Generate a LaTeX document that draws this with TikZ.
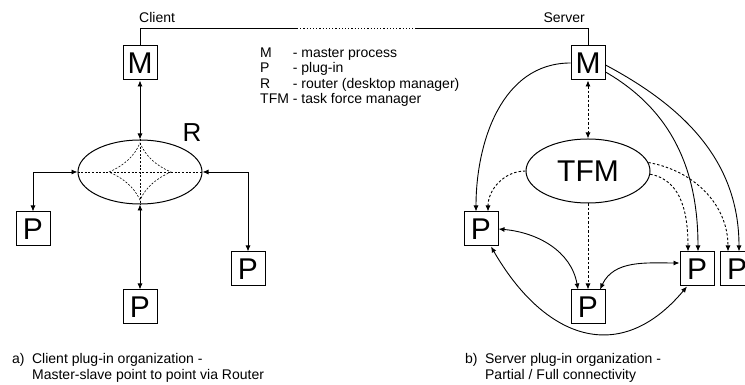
\documentclass[tikz,border=0pt]{standalone}
\usepackage{fontspec}
\setmainfont{Liberation Sans}
\usetikzlibrary{arrows.meta,shapes.geometric,calc}

\tikzset{
  proc/.style={draw,line width=1pt,minimum size=34pt,inner sep=0pt,font=\fontsize{30}{30}\selectfont},
  hub/.style={draw,ellipse,line width=1pt,minimum width=124pt,minimum height=64pt,inner sep=0pt,font=\fontsize{30}{30}\selectfont},
  link/.style={line width=0.9pt},
  dlink/.style={line width=0.9pt,dash pattern=on 2.5pt off 2pt},
  inner/.style={line width=0.6pt,dash pattern=on 2pt off 1.6pt},
  txt/.style={inner sep=0pt,font=\fontsize{14}{15.5}\selectfont},
  caption/.style={inner sep=0pt,anchor=north west,font=\fontsize{14}{16}\selectfont},
}

\begin{document}
\begin{tikzpicture}[x=1pt,y=1pt,>={Latex[length=6pt,width=5pt]}]
\useasboundingbox (0,0) rectangle (745,385);
\clip (0,0) rectangle (745,385);
% client side
\node[proc] (cM) at (140,322) {M};
\node[hub] (R) at (140,213) {};
\node[font=\fontsize{26}{26}\selectfont] (Rlab) at (192,252) {R};
\node[proc] (pL) at (33,156) {P};
\node[proc] (pB) at (140,78) {P};
\node[proc] (pR) at (248,116) {P};
\draw[link,<->] (cM) -- (R);
\draw[link,<->] (pL) |- (R);
\draw[link,<->] (pR) |- (R);
\draw[link,<->] (R) -- (pB);
% router inside
\draw[inner] (R.west) -- (R.east) (R.north) -- (R.south);
\coordinate (aL) at ($(R)+(-31,0)$);
\coordinate (aT) at ($(R)+(0,29)$);
\coordinate (aR) at ($(R)+(31,0)$);
\coordinate (aB) at ($(R)+(0,-28)$);
\draw[inner] (aL) .. controls ($(R)+(-17,6)$) and ($(R)+(-6,15)$) .. (aT)
  .. controls ($(R)+(6,15)$) and ($(R)+(17,6)$) .. (aR)
  .. controls ($(R)+(17,-6)$) and ($(R)+(6,-15)$) .. (aB)
  .. controls ($(R)+(-6,-15)$) and ($(R)+(-17,-6)$) .. (aL);
% server side
\node[proc] (sM) at (588,322) {M};
\node[hub] (TFM) at (588,214) {TFM};
\node[proc] (p1) at (481,156) {P};
\node[proc] (p2) at (588,78) {P};
\node[proc] (p3) at (697,116) {P};
\node[proc] (p4) at (737,116) {P};
\draw[dlink,<->] (sM) -- (TFM);
\draw[dlink,->] (TFM) -- (p2);
\draw[link,->] (sM.west) to[out=180,in=90] ([xshift=-5pt]p1.north);
\draw[dlink,->] (TFM.west) to[out=180,in=90] ([xshift=7pt]p1.north);
\draw[dlink,->] (TFM.-3) to[out=-10,in=90] ([xshift=-9pt]p3.north);
\draw[dlink,->] (TFM.8) to[out=-10,in=90] ([xshift=-9pt]p4.north);
\draw[link,->] ([yshift=-9pt]sM.east) to[out=-30,in=90] ([xshift=1pt]p3.north);
\draw[link,->] ([yshift=-2pt]sM.east) to[out=-28,in=90] ([xshift=2pt]p4.north);
\draw[link,<->] (p1.east) to[out=-5,in=100] ([xshift=-10pt]p2.north);
\draw[link,<->] ([xshift=12pt]p2.north) to[out=65,in=180] ([yshift=6pt]p3.west);
\draw[link,<->] ([xshift=10pt]p1.south) to[out=-60,in=-130,looseness=1.35] ([xshift=-10pt]p3.south);
% client - server link
\coordinate (d1) at (297,357);
\coordinate (d2) at (417,357);
\draw[link] (cM.north) |- (d1);
\draw[link,dash pattern=on 1.2pt off 2pt] (d1) -- (d2);
\draw[link] (d2) -| (sM.north);
\node[txt,anchor=base west] (client) at (139,362) {Client};
\node[txt,anchor=base east] (server) at (585,362) {Server};
% legend
\node[txt,anchor=north west] (legend) at (260,339) {\begin{tabular}{@{}l@{\ }l@{}}
M & - master process\\
P & - plug-in\\
R & - router (desktop manager)\\
TFM & - task force manager
\end{tabular}};
% captions
\node[caption] (capa) at (12,33) {\begin{tabular}{@{}l@{\hspace{7.5pt}}l@{}}
a) & Client plug-in organization -\\
 & Master-slave point to point via Router
\end{tabular}};
\node[caption] (capb) at (465,33) {\begin{tabular}{@{}l@{\hspace{7.5pt}}l@{}}
b) & Server plug-in organization -\\
 & Partial / Full connectivity
\end{tabular}};
\end{tikzpicture}
\end{document}
